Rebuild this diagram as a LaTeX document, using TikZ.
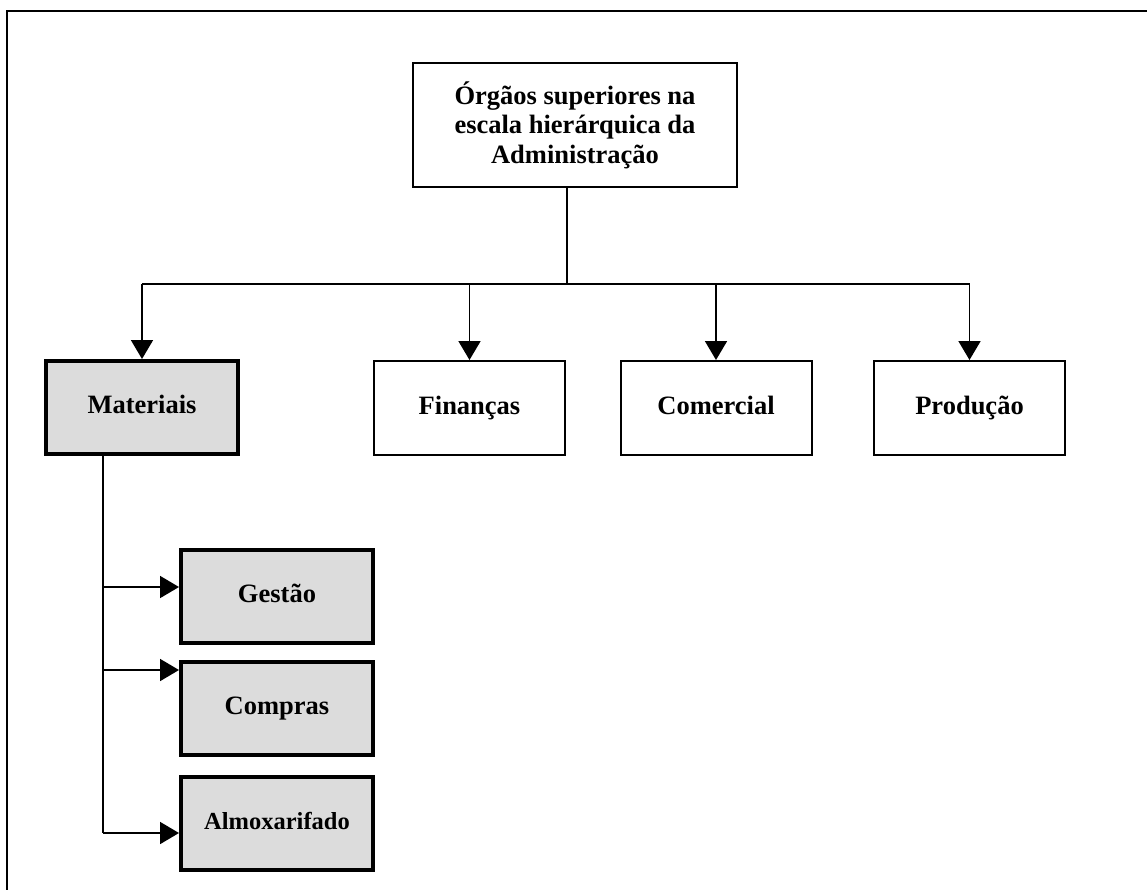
\documentclass[tikz,border=0pt]{standalone}
\usepackage{fontspec}
\setmainfont{Liberation Serif}
\usetikzlibrary{arrows.meta}
\definecolor{boxgray}{HTML}{DCDCDC}
\begin{document}
\begin{tikzpicture}[x=1pt,y=-1pt,
  label font/.style={font=\bfseries\fontsize{26.5}{29.5}\selectfont,
    text height=18pt,text depth=6pt},
  unitbox/.style={draw=black,line width=2pt,inner sep=0pt,
    minimum width=191pt,minimum height=94pt,label font},
  subbox/.style={draw=black,fill=boxgray,line width=4pt,inner sep=0pt,
    minimum width=192pt,minimum height=93pt,label font},
  link/.style={line width=1.8pt},
  arrow/.style={line width=1.8pt,-{Triangle[width=22pt,length=19pt]}}]
  \clip (0,0) rectangle (1147,889);
  % outer frame, running off the page on the right and bottom
  \draw[line width=2pt] (1200,10.5) -- (6.5,10.5) -- (6.5,950);

  % boxes
  \node[draw=black,line width=2pt,inner sep=0pt,
    minimum width=324pt,minimum height=124pt,align=center,
    font=\bfseries\fontsize{26.5}{29.5}\selectfont] (top) at (575,125)
    {Órgãos superiores na\\escala hierárquica da\\Administração};
  \node[subbox] (mat) at (142,407.5) {Materiais};
  \node[unitbox] (fin) at (469.5,408) {Finanças};
  \node[unitbox] (com) at (716,408) {Comercial};
  \node[unitbox] (prod) at (969.5,408) {Produção};
  \node[subbox] (gest) at (277,596.5) {Gestão};
  \node[subbox] (comp) at (277,708) {Compras};
  \node[subbox,font=\bfseries\fontsize{24.5}{28}\selectfont] (alm) at (277,823.5) {Almoxarifado};

  % distribution bus under the top box
  \coordinate (bus) at (567,284);
  \draw[link] (top.south -| bus) -- (bus);
  \draw[link] (bus -| mat.north) -- (bus -| prod.north);
  \draw[arrow] (bus -| mat.north) -- (mat.north);
  \draw[arrow] (bus -| fin.north) -- (fin.north);
  \draw[arrow] (bus -| com.north) -- (com.north);
  \draw[arrow] (bus -| prod.north) -- (prod.north);

  % trunk under Materiais
  \coordinate (trunk) at (103,456);
  \coordinate (gin) at ([yshift=9.5pt]gest.west);
  \coordinate (cin) at ([yshift=38pt]comp.west);
  \coordinate (ain) at ([yshift=-9.5pt]alm.west);
  \draw[link] (mat.south -| trunk) -- (trunk |- ain);
  \draw[arrow] (trunk |- gin) -- (gin);
  \draw[arrow] (trunk |- cin) -- (cin);
  \draw[arrow] (trunk |- ain) -- (ain);
\end{tikzpicture}
\end{document}
